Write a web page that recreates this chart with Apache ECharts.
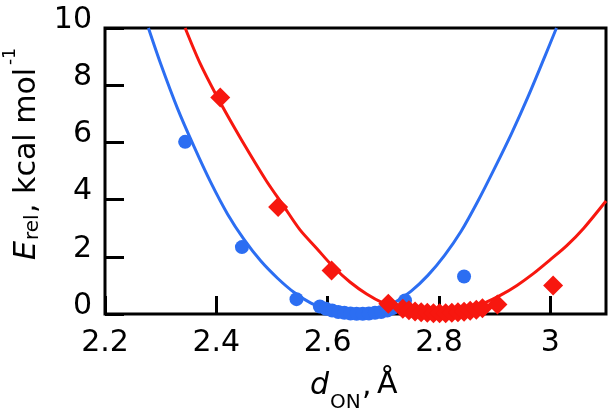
<!DOCTYPE html>
<html>
<head>
<meta charset="utf-8">
<script src="https://cdn.jsdelivr.net/npm/echarts@6/dist/echarts.min.js"></script>
<style>
  html, body { margin: 0; padding: 0; background: #fff; }
  #chart { width: 612px; height: 415px; }
</style>
</head>
<body>
<div id="chart"></div>
<script>
// tick labels
const xTicks = [2.2, 2.4, 2.6, 2.8, 3.0]
const xTickLabels = ['2.2', '2.4', '2.6', '2.8', '3']
const yTicks = [0, 2, 4, 6, 8, 10]
const yTickLabels = ['0', '2', '4', '6', '8', '10']

// fitted curves
const blueFitX = [2.278, 2.30, 2.33, 2.36, 2.39, 2.42, 2.45, 2.48, 2.51, 2.54, 2.57, 2.60, 2.63, 2.66, 2.69, 2.72, 2.75, 2.78, 2.81, 2.84, 2.87, 2.90, 2.93, 2.96, 2.99, 3.011]
const blueFitY = [10, 8.75, 7.2, 5.85, 4.6, 3.5, 2.6, 1.85, 1.25, 0.75, 0.38, 0.14, 0.03, 0.03, 0.15, 0.4, 0.8, 1.35, 2.05, 2.9, 3.95, 5.1, 6.3, 7.6, 9.0, 10]
const redFitX = [2.344, 2.37, 2.40, 2.43, 2.46, 2.49, 2.52, 2.55, 2.58, 2.61, 2.64, 2.67, 2.70, 2.73, 2.76, 2.79, 2.82, 2.85, 2.88, 2.91, 2.94, 2.97, 3.00, 3.03, 3.06, 3.10]
const redFitY = [10, 8.8, 7.65, 6.6, 5.6, 4.65, 3.8, 2.95, 2.3, 1.65, 1.12, 0.7, 0.38, 0.16, 0.04, 0.0, 0.04, 0.16, 0.37, 0.65, 1.0, 1.42, 1.9, 2.4, 3.0, 3.95]

// computed points
const blueX = [2.344, 2.446, 2.544, 2.586, 2.597, 2.608, 2.619, 2.63, 2.641, 2.652, 2.663, 2.674, 2.685, 2.696, 2.707, 2.716, 2.739, 2.845]
const blueY = [6.02, 2.34, 0.52, 0.26, 0.18, 0.12, 0.07, 0.04, 0.02, 0.01, 0.01, 0.02, 0.04, 0.07, 0.12, 0.2, 0.47, 1.31]
const redX = [2.407, 2.511, 2.607, 2.709, 2.735, 2.746, 2.757, 2.768, 2.779, 2.79, 2.801, 2.812, 2.823, 2.834, 2.845, 2.856, 2.867, 2.878, 2.905, 3.005]
const redY = [7.57, 3.74, 1.52, 0.36, 0.18, 0.13, 0.09, 0.06, 0.04, 0.03, 0.03, 0.03, 0.04, 0.06, 0.08, 0.11, 0.15, 0.2, 0.33, 1.0]

const BLUE = '#2c6ef2'
const RED = '#f7170f'
const FONT = '"DejaVu Sans", Verdana, sans-serif'

function pairs(xs, ys) {
  return xs.map((x, i) => [x, ys[i]])
}
function tickLabel(ticks, labels) {
  return function (v) {
    for (let i = 0; i < ticks.length; i++) {
      if (Math.abs(ticks[i] - v) < 1e-6) return labels[i]
    }
    return ''
  }
}

let chart = echarts.init(document.getElementById('chart'), null, { renderer: 'canvas' })
chart.setOption({
  animation: false,
  grid: {
    left: 105,
    right: 6,
    top: 28,
    bottom: 101,
    show: true,
    borderColor: '#000',
    borderWidth: 3,
    backgroundColor: 'transparent'
  },
  xAxis: {
    type: 'value',
    min: 2.2,
    max: 3.1,
    interval: 0.2,
    axisLine: { show: false },
    axisTick: { show: true, inside: true, length: 18, lineStyle: { color: '#000', width: 3 } },
    splitLine: { show: false },
    axisLabel: {
      showMaxLabel: false,
      margin: 14,
      color: '#000',
      fontFamily: FONT,
      fontSize: 30,
      formatter: tickLabel(xTicks, xTickLabels)
    }
  },
  yAxis: {
    type: 'value',
    min: 0,
    max: 10,
    interval: 2,
    axisLine: { show: false },
    axisTick: { show: true, inside: true, length: 19, lineStyle: { color: '#000', width: 3 } },
    splitLine: { show: false },
    axisLabel: {
      margin: 13,
      color: '#000',
      fontFamily: FONT,
      fontSize: 30,
      verticalAlign: 'bottom',
      lineHeight: 16,
      formatter: tickLabel(yTicks, yTickLabels)
    }
  },
  graphic: [
    // x axis title: d_ON, Å
    { type: 'text', x: 310, y: 386.5, style: { text: 'd', font: 'italic 30px ' + FONT, fill: '#000', verticalAlign: 'middle' } },
    { type: 'text', x: 330, y: 403, style: { text: 'ON', font: '20px ' + FONT, fill: '#000', verticalAlign: 'middle' } },
    { type: 'text', x: 362, y: 386.5, style: { text: ',', font: '30px ' + FONT, fill: '#000', verticalAlign: 'middle' } },
    { type: 'text', x: 377, y: 385, style: { text: 'Å', font: '30px ' + FONT, fill: '#000', verticalAlign: 'middle' } },
    // y axis title: E_rel, kcal mol-1 (rotated)
    {
      type: 'group',
      x: 0,
      y: 0,
      rotation: Math.PI / 2,
      children: [
        { type: 'text', x: -260, y: 27, style: { text: 'E', font: 'italic 30px ' + FONT, fill: '#000', verticalAlign: 'middle' } },
        { type: 'text', x: -240, y: 33, style: { text: 'rel', font: '20px ' + FONT, fill: '#000', verticalAlign: 'middle' } },
        { type: 'text', x: -213, y: 27, style: { text: ', kcal mol', font: '30px ' + FONT, fill: '#000', verticalAlign: 'middle' } },
        { type: 'text', x: -65, y: 11, style: { text: '-1', font: '17px ' + FONT, fill: '#000', verticalAlign: 'middle' } }
      ]
    }
  ],
  series: [
    {
      name: 'blueFit',
      type: 'line',
      data: pairs(blueFitX, blueFitY),
      smooth: 0.3,
      showSymbol: false,
      clip: true,
      lineStyle: { color: BLUE, width: 3 },
      z: 2
    },
    {
      name: 'redFit',
      type: 'line',
      data: pairs(redFitX, redFitY),
      smooth: 0.3,
      showSymbol: false,
      clip: true,
      lineStyle: { color: RED, width: 3 },
      z: 2
    },
    {
      name: 'blue',
      type: 'scatter',
      data: pairs(blueX, blueY),
      symbol: 'circle',
      symbolSize: 14,
      itemStyle: { color: BLUE, opacity: 1 },
      z: 3
    },
    {
      name: 'red',
      type: 'scatter',
      data: pairs(redX, redY),
      symbol: 'diamond',
      symbolSize: 20,
      itemStyle: { color: RED, opacity: 1 },
      z: 4
    }
  ]
})
</script>
</body>
</html>
